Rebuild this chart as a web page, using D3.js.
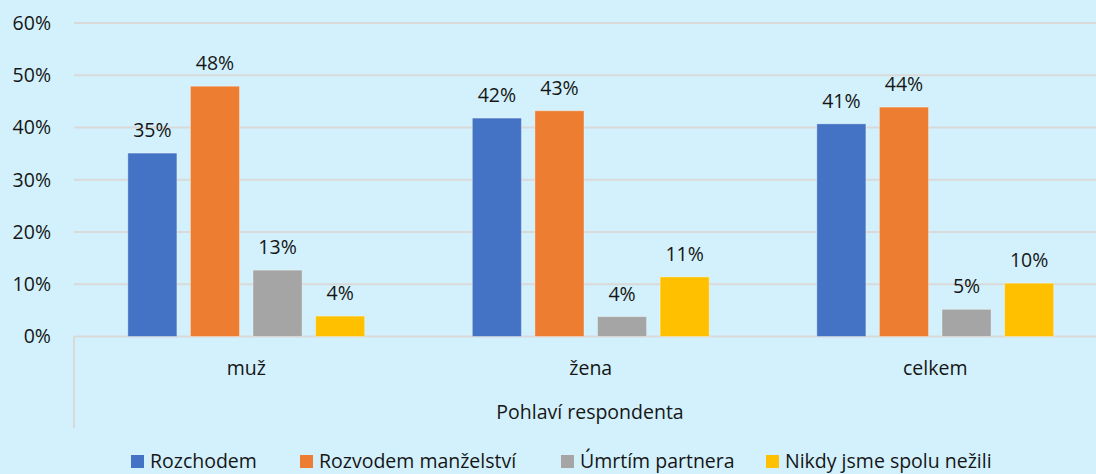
<!DOCTYPE html>
<html>
<head>
<meta charset="utf-8">
<script src="https://cdn.jsdelivr.net/npm/d3@7"></script>
<style>
  html, body { margin: 0; padding: 0; background: #d2f1fc; }
  svg { display: block; font-family: "Open Sans", "Noto Sans", sans-serif; }
</style>
</head>
<body>
<script>
const categories = ["muž", "žena", "celkem"];
const seriesNames = ["Rozchodem", "Rozvodem manželství", "Úmrtím partnera", "Nikdy jsme spolu nežili"];
const rozchodem = [35.1, 41.8, 40.7];
const rozvodem = [47.9, 43.2, 43.9];
const umrtim = [12.7, 3.8, 5.2];
const nikdy = [3.9, 11.4, 10.2];
const yTicks = [0, 10, 20, 30, 40, 50, 60];
const axisTitle = "Pohlaví respondenta";

const colors = ["#4472c4", "#ed7d31", "#a5a5a5", "#ffc000"];
const seriesValues = [rozchodem, rozvodem, umrtim, nikdy];
const fontSize = 19.5;
const textColor = "#161616";

const width = 1096, height = 474;
const svg = d3.select("body").append("svg")
  .attr("width", width).attr("height", height);

const x0 = d3.scaleBand().domain(categories).range([74, 1107.5]).paddingInner(0).paddingOuter(0);
const x1 = d3.scaleBand().domain(seriesNames).range([0, x0.bandwidth()])
  .paddingInner(0.216).paddingOuter(0.86);
const y = d3.scaleLinear().domain([0, 60]).range([336.5, 23]);

// gridlines
svg.append("g").selectAll("line").data(yTicks).enter().append("line")
  .attr("x1", 74).attr("x2", width)
  .attr("y1", d => y(d)).attr("y2", d => y(d))
  .attr("stroke", "#d9d9d9").attr("stroke-width", 2);

// left category-axis line
svg.append("line").attr("x1", 74).attr("x2", 74)
  .attr("y1", y(0)).attr("y2", 428)
  .attr("stroke", "#d9d9d9").attr("stroke-width", 2);

// y tick labels
svg.append("g").selectAll("text").data(yTicks).enter().append("text")
  .attr("x", 51).attr("y", d => y(d)).attr("dy", "0.35em")
  .attr("text-anchor", "end").attr("font-size", fontSize).attr("fill", textColor)
  .text(d => d + "%");

// bars
const groups = svg.append("g").selectAll("g").data(categories).enter().append("g")
  .attr("transform", d => `translate(${x0(d)},0)`);

groups.each(function(cat, ci) {
  const g = d3.select(this);
  const items = seriesNames.map((s, si) => ({ s, si, v: seriesValues[si][ci] }));
  g.selectAll("rect").data(items).enter().append("rect")
    .attr("x", d => x1(d.s)).attr("width", x1.bandwidth())
    .attr("y", d => y(d.v)).attr("height", d => y(0) - y(d.v))
    .attr("fill", d => colors[d.si])
    .attr("stroke", "rgba(255,255,255,0.35)").attr("stroke-width", 1);
  g.selectAll("text").data(items).enter().append("text")
    .attr("x", d => x1(d.s) + x1.bandwidth() / 2)
    .attr("y", d => y(d.v) - 16)
    .attr("text-anchor", "middle").attr("font-size", fontSize).attr("fill", textColor)
    .text(d => Math.round(d.v) + "%");
});

// category labels
svg.append("g").selectAll("text").data(categories).enter().append("text")
  .attr("x", d => x0(d) + x0.bandwidth() / 2).attr("y", 368).attr("dy", "0.35em")
  .attr("text-anchor", "middle").attr("font-size", fontSize).attr("fill", textColor)
  .text(d => d);

// axis title
svg.append("text").attr("x", 590).attr("y", 412).attr("dy", "0.35em")
  .attr("text-anchor", "middle").attr("font-size", fontSize).attr("fill", textColor)
  .text(axisTitle);

// legend
const legendX = [131, 300, 561, 766];
const legend = svg.append("g").selectAll("g").data(seriesNames).enter().append("g")
  .attr("transform", (d, i) => `translate(${legendX[i]},${455})`);
legend.append("rect").attr("width", 13).attr("height", 13)
  .attr("fill", (d, i) => colors[i]);
legend.append("text").attr("x", 19).attr("y", 13)
  .attr("font-size", fontSize).attr("fill", textColor).text(d => d);
</script>
</body>
</html>
